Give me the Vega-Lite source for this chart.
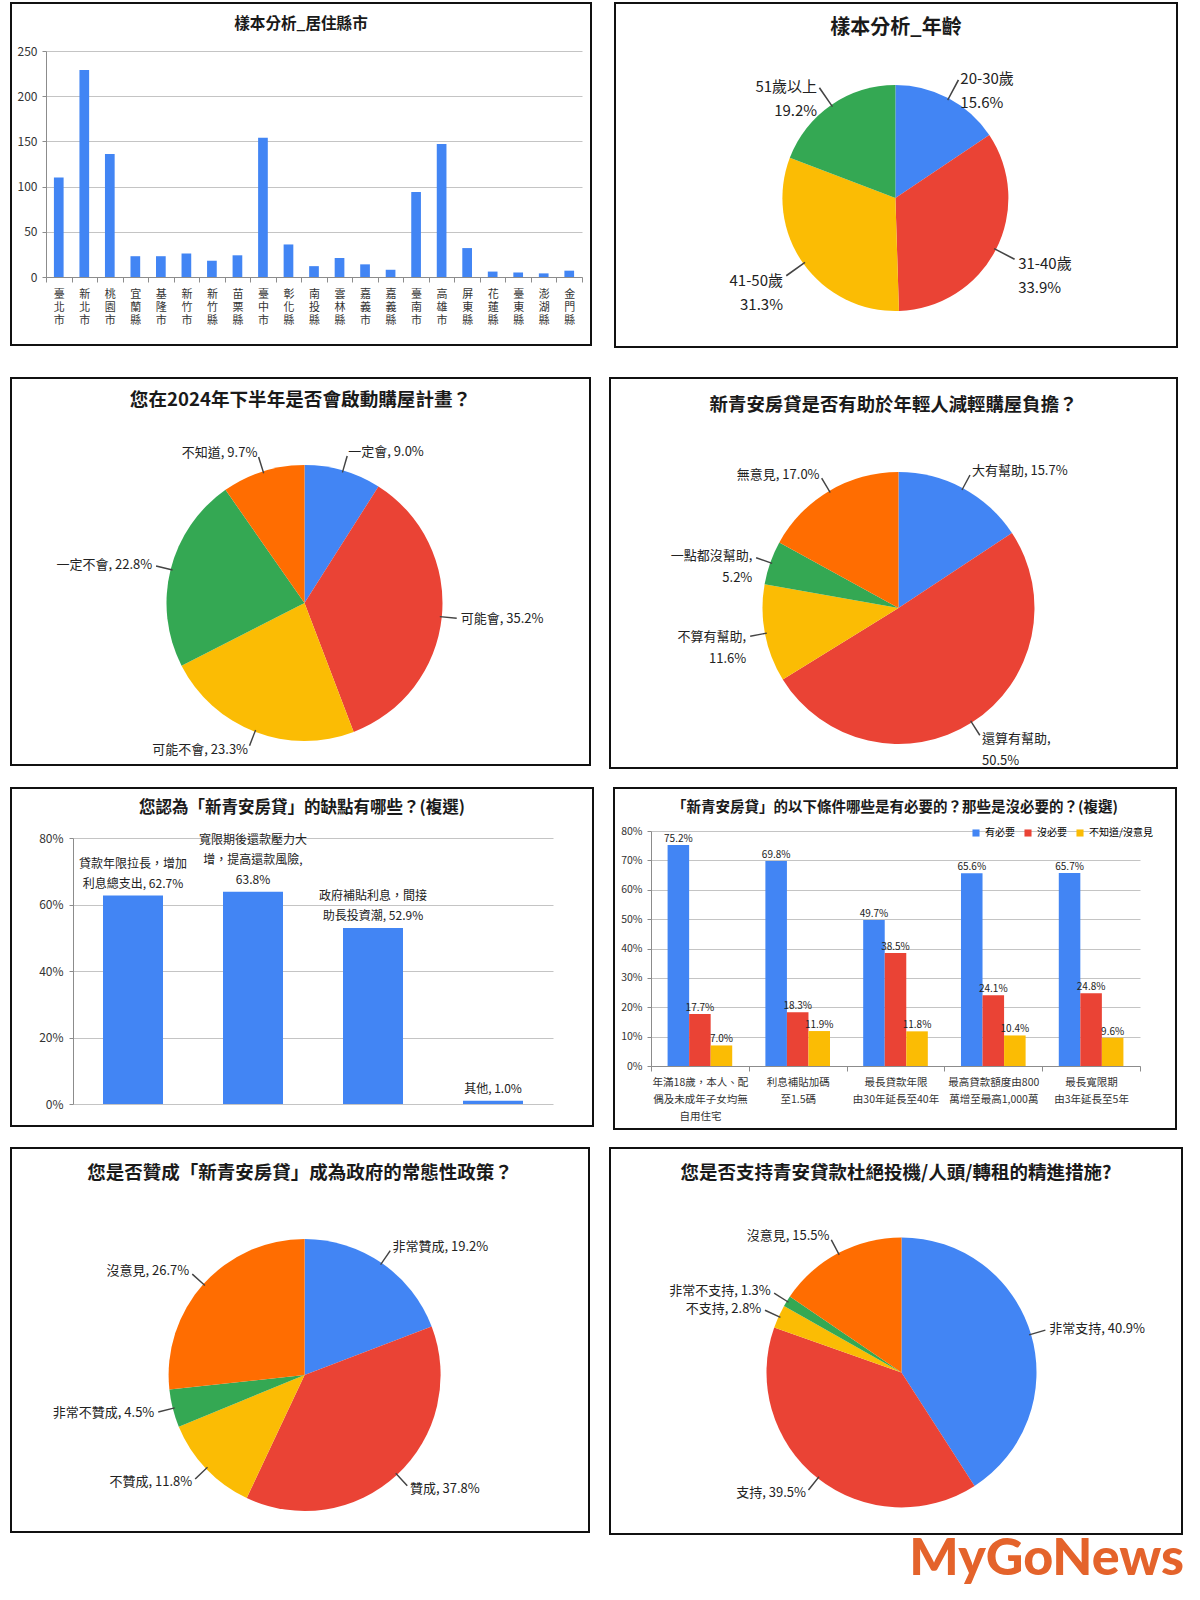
{
"$schema": "https://vega.github.io/schema/vega-lite/v6.json",
"background": "white",
"padding": {"left": 9, "top": 1, "right": 4, "bottom": 4},
"title": {"text": "MyGoNews", "orient": "bottom", "anchor": "end", "fontSize": 52, "font": "Lato", "fontWeight": 900, "color": "#e4632b", "offset": -2},
"resolve": {"scale": {"color": "independent"}},
"spacing": 16,
"vconcat": [
{"spacing": 17, "resolve": {"scale": {"color": "independent"}}, "vconcat": [
{"spacing": 27, "resolve": {"scale": {"color": "independent"}}, "vconcat": [
{"spacing": 21, "resolve": {"scale": {"color": "independent"}}, "hconcat": [
{
 "width": 580, "height": 342,
 "title": {"text": "樣本分析_居住縣市", "fontSize": 15.6, "offset": -30},
 "data": {"values": [
  {"city": "臺北市", "n": 110}, {"city": "新北市", "n": 229}, {"city": "桃園市", "n": 136},
  {"city": "宜蘭縣", "n": 23}, {"city": "基隆市", "n": 23}, {"city": "新竹市", "n": 26},
  {"city": "新竹縣", "n": 18}, {"city": "苗栗縣", "n": 24}, {"city": "臺中市", "n": 154},
  {"city": "彰化縣", "n": 36}, {"city": "南投縣", "n": 12}, {"city": "雲林縣", "n": 21},
  {"city": "嘉義市", "n": 14}, {"city": "嘉義縣", "n": 8}, {"city": "臺南市", "n": 94},
  {"city": "高雄市", "n": 147}, {"city": "屏東縣", "n": 32}, {"city": "花蓮縣", "n": 6},
  {"city": "臺東縣", "n": 5}, {"city": "澎湖縣", "n": 4}, {"city": "金門縣", "n": 7}
 ]},
 "mark": {"type": "bar", "color": "#4285f4", "width": {"band": 0.38}},
 "encoding": {
  "x": {"field": "city", "type": "nominal", "sort": null,
        "scale": {"range": [35, 571], "paddingInner": 0, "paddingOuter": 0},
        "axis": {"title": null, "offset": -68, "labelExpr": "split(datum.label, '')", "labelAngle": 0, "labelFontSize": 11, "labelLineHeight": 13.4, "labelPadding": 6, "tickBand": "extent", "tickSize": 5, "labelOverlap": false, "labelBaseline": "top"}},
  "y": {"field": "n", "type": "quantitative",
        "scale": {"domain": [0, 250], "range": [274, 48], "nice": false},
        "axis": {"title": null, "offset": -35, "values": [0, 50, 100, 150, 200, 250], "grid": true, "tickSize": 4, "labelPadding": 5, "labelFontSize": 12}}
 }
},
{
 "width": 562, "height": 344,
 "title": {"text": "樣本分析_年齡", "fontSize": 20, "offset": -36},
 "data": {"values": [{"k": "20-30歲", "v": 15.6}, {"k": "31-40歲", "v": 33.9}, {"k": "41-50歲", "v": 31.3}, {"k": "51歲以上", "v": 19.2}]},
 "transform": [
  {"window": [{"op": "row_number", "as": "idx"}, {"op": "sum", "field": "v", "as": "cum"}], "frame": [null, 0]},
  {"calculate": "datum.cum - datum.v / 2", "as": "mid"},
  {"calculate": "datum.mid - 0.1", "as": "m1"},
  {"calculate": "datum.mid + 0.1", "as": "m2"},
  {"calculate": "datum.k + '\\n' + format(datum.v, '.1f') + '%'", "as": "label"}
 ],
 "layer": [
  {"data": {"values": [{}]}, "mark": {"type": "rect", "filled": false, "color": "#111", "strokeWidth": 2},
   "encoding": {"x": {"value": 0}, "x2": {"value": "width"}, "y": {"value": 0}, "y2": {"value": "height"}}},
  {"mark": {"type": "arc", "outerRadius": 113, "xOffset": -0.6, "yOffset": 23},
   "encoding": {
    "theta": {"field": "v", "type": "quantitative", "stack": true, "scale": {"domain": [0, 100]}},
    "color": {"field": "idx", "type": "ordinal", "scale": {"domain": [1, 2, 3, 4, 5], "range": ["#4285f4", "#ea4335", "#fbbc04", "#34a853", "#ff6d01"]}, "legend": null},
    "order": {"field": "idx", "type": "quantitative"}}},
  {"mark": {"type": "arc", "innerRadius": 111, "outerRadius": 134, "xOffset": -0.6, "yOffset": 23, "color": "#444"},
   "encoding": {"theta": {"field": "m1", "type": "quantitative", "stack": null}, "theta2": {"field": "m2"}}},
  {"transform": [{"filter": "datum.mid < 50"}],
   "mark": {"type": "text", "radius": 138, "align": "left", "baseline": "middle", "dy": 3, "xOffset": -0.6, "yOffset": 23, "fontSize": 15, "lineBreak": "\n", "lineHeight": 24},
   "encoding": {"theta": {"field": "mid", "type": "quantitative", "stack": null}, "text": {"field": "label"}}},
  {"transform": [{"filter": "datum.mid >= 50"}],
   "mark": {"type": "text", "radius": 138, "align": "right", "baseline": "middle", "dy": 3, "xOffset": -0.6, "yOffset": 23, "fontSize": 15, "lineBreak": "\n", "lineHeight": 24},
   "encoding": {"theta": {"field": "mid", "type": "quantitative", "stack": null}, "text": {"field": "label"}}}
 ]
}
]},
{"spacing": 16, "resolve": {"scale": {"color": "independent"}}, "hconcat": [
{
 "width": 579, "height": 387,
 "title": {"text": "您在2024年下半年是否會啟動購屋計畫？", "fontSize": 18.6, "offset": -33},
 "data": {"values": [
  {"k": "一定會", "v": 9.0, "label": "一定會, 9.0%"},
  {"k": "可能會", "v": 35.2, "label": "可能會, 35.2%"},
  {"k": "可能不會", "v": 23.3, "label": "可能不會, 23.3%"},
  {"k": "一定不會", "v": 22.8, "label": "一定不會, 22.8%"},
  {"k": "不知道", "v": 9.7, "label": "不知道, 9.7%"}
 ]},
 "transform": [
  {"window": [{"op": "row_number", "as": "idx"}, {"op": "sum", "field": "v", "as": "cum"}], "frame": [null, 0]},
  {"calculate": "datum.cum - datum.v / 2", "as": "mid"},
  {"calculate": "datum.mid - 0.08", "as": "m1"},
  {"calculate": "datum.mid + 0.08", "as": "m2"}
 ],
 "layer": [
  {"data": {"values": [{}]}, "mark": {"type": "rect", "filled": false, "color": "#111", "strokeWidth": 2},
   "encoding": {"x": {"value": 0}, "x2": {"value": "width"}, "y": {"value": 0}, "y2": {"value": "height"}}},
  {"mark": {"type": "arc", "outerRadius": 138, "xOffset": 4, "yOffset": 31.5},
   "encoding": {
    "theta": {"field": "v", "type": "quantitative", "stack": true, "scale": {"domain": [0, 100]}},
    "color": {"field": "idx", "type": "ordinal", "scale": {"domain": [1, 2, 3, 4, 5], "range": ["#4285f4", "#ea4335", "#fbbc04", "#34a853", "#ff6d01"]}, "legend": null},
    "order": {"field": "idx", "type": "quantitative"}}},
  {"mark": {"type": "arc", "innerRadius": 136, "outerRadius": 153, "xOffset": 4, "yOffset": 31.5, "color": "#444"},
   "encoding": {"theta": {"field": "m1", "type": "quantitative", "stack": null}, "theta2": {"field": "m2"}}},
  {"transform": [{"filter": "datum.mid < 50"}],
   "mark": {"type": "text", "radius": 157, "align": "left", "baseline": "middle", "xOffset": 4, "yOffset": 31.5, "fontSize": 13},
   "encoding": {"theta": {"field": "mid", "type": "quantitative", "stack": null}, "text": {"field": "label"}}},
  {"transform": [{"filter": "datum.mid >= 50"}],
   "mark": {"type": "text", "radius": 157, "align": "right", "baseline": "middle", "xOffset": 4, "yOffset": 31.5, "fontSize": 13},
   "encoding": {"theta": {"field": "mid", "type": "quantitative", "stack": null}, "text": {"field": "label"}}}
 ]
},
{
 "width": 567, "height": 390,
 "title": {"text": "新青安房貸是否有助於年輕人減輕購屋負擔？", "fontSize": 18.4, "offset": -37},
 "data": {"values": [
  {"k": "大有幫助", "v": 15.7, "label": "大有幫助, 15.7%"},
  {"k": "還算有幫助", "v": 50.5, "label": "還算有幫助,\n50.5%"},
  {"k": "不算有幫助", "v": 11.6, "label": "不算有幫助,\n11.6%"},
  {"k": "一點都沒幫助", "v": 5.2, "label": "一點都沒幫助,\n5.2%"},
  {"k": "無意見", "v": 17.0, "label": "無意見, 17.0%"}
 ]},
 "transform": [
  {"window": [{"op": "row_number", "as": "idx"}, {"op": "sum", "field": "v", "as": "cum"}], "frame": [null, 0]},
  {"calculate": "datum.cum - datum.v / 2", "as": "mid"},
  {"calculate": "datum.mid - 0.08", "as": "m1"},
  {"calculate": "datum.mid + 0.08", "as": "m2"}
 ],
 "layer": [
  {"data": {"values": [{}]}, "mark": {"type": "rect", "filled": false, "color": "#111", "strokeWidth": 2},
   "encoding": {"x": {"value": 0}, "x2": {"value": "width"}, "y": {"value": 0}, "y2": {"value": "height"}}},
  {"mark": {"type": "arc", "outerRadius": 136, "xOffset": 5, "yOffset": 35},
   "encoding": {
    "theta": {"field": "v", "type": "quantitative", "stack": true, "scale": {"domain": [0, 100]}},
    "color": {"field": "idx", "type": "ordinal", "scale": {"domain": [1, 2, 3, 4, 5], "range": ["#4285f4", "#ea4335", "#fbbc04", "#34a853", "#ff6d01"]}, "legend": null},
    "order": {"field": "idx", "type": "quantitative"}}},
  {"mark": {"type": "arc", "innerRadius": 134, "outerRadius": 151, "xOffset": 5, "yOffset": 35, "color": "#444"},
   "encoding": {"theta": {"field": "m1", "type": "quantitative", "stack": null}, "theta2": {"field": "m2"}}},
  {"transform": [{"filter": "datum.mid < 50"}],
   "mark": {"type": "text", "radius": 155, "align": "left", "baseline": "middle", "xOffset": 5, "yOffset": 35, "fontSize": 13, "lineBreak": "\n", "lineHeight": 22},
   "encoding": {"theta": {"field": "mid", "type": "quantitative", "stack": null}, "text": {"field": "label"}}},
  {"transform": [{"filter": "datum.mid >= 50"}],
   "mark": {"type": "text", "radius": 155, "align": "right", "baseline": "middle", "xOffset": 5, "yOffset": 35, "fontSize": 13, "lineBreak": "\n", "lineHeight": 22},
   "encoding": {"theta": {"field": "mid", "type": "quantitative", "stack": null}, "text": {"field": "label"}}}
 ]
}
]}
]},
{"spacing": 19, "resolve": {"scale": {"color": "independent"}}, "hconcat": [
{
 "width": 582, "height": 338,
 "title": {"text": "您認為「新青安房貸」的缺點有哪些？(複選)", "fontSize": 16.5, "offset": -28},
 "data": {"values": [
  {"k": "貸款年限拉長，增加利息總支出", "v": 62.7, "label": "貸款年限拉長，增加\n利息總支出, 62.7%"},
  {"k": "寬限期後還款壓力大增，提高還款風險", "v": 63.8, "label": "寬限期後還款壓力大\n增，提高還款風險,\n63.8%"},
  {"k": "政府補貼利息，間接助長投資潮", "v": 52.9, "label": "政府補貼利息，間接\n助長投資潮, 52.9%"},
  {"k": "其他", "v": 1.0, "label": "其他, 1.0%"}
 ]},
 "transform": [
  {"calculate": "split(datum.label, '\\n')", "as": "lines"},
  {"calculate": "length(datum.lines)", "as": "nl"},
  {"calculate": "datum.lines[datum.nl - 1]", "as": "t0"},
  {"calculate": "datum.nl > 1 ? datum.lines[datum.nl - 2] : ''", "as": "t1"},
  {"calculate": "datum.nl > 2 ? datum.lines[datum.nl - 3] : ''", "as": "t2"}
 ],
 "encoding": {
  "x": {"field": "k", "type": "nominal", "sort": null, "scale": {"range": [62, 542], "paddingInner": 0.5, "paddingOuter": 0.25}, "axis": null},
  "y": {"field": "v", "type": "quantitative", "scale": {"domain": [0, 80], "range": [316, 50], "nice": false},
        "axis": {"title": null, "offset": -62, "values": [0, 20, 40, 60, 80], "labelExpr": "datum.value + '%'", "grid": true, "tickSize": 4, "labelPadding": 6, "labelFontSize": 12}}
 },
 "layer": [
  {"mark": {"type": "bar", "color": "#4285f4"}},
  {"mark": {"type": "text", "baseline": "middle", "dy": -12, "fontSize": 12},
   "encoding": {"text": {"field": "t0"}}},
  {"mark": {"type": "text", "baseline": "middle", "dy": -32, "fontSize": 12},
   "encoding": {"text": {"field": "t1"}}},
  {"mark": {"type": "text", "baseline": "middle", "dy": -52, "fontSize": 12},
   "encoding": {"text": {"field": "t2"}}}
 ]
},
{
 "width": 562, "height": 341,
 "title": {"text": "「新青安房貸」的以下條件哪些是有必要的？那些是沒必要的？(複選)", "fontSize": 14.5, "offset": -27},
 "data": {"values": [
  {"c": "年滿18歲，本人、配\n偶及未成年子女均無\n自用住宅", "s": "有必要", "v": 75.2},
  {"c": "年滿18歲，本人、配\n偶及未成年子女均無\n自用住宅", "s": "沒必要", "v": 17.7},
  {"c": "年滿18歲，本人、配\n偶及未成年子女均無\n自用住宅", "s": "不知道/沒意見", "v": 7.0},
  {"c": "利息補貼加碼\n至1.5碼", "s": "有必要", "v": 69.8},
  {"c": "利息補貼加碼\n至1.5碼", "s": "沒必要", "v": 18.3},
  {"c": "利息補貼加碼\n至1.5碼", "s": "不知道/沒意見", "v": 11.9},
  {"c": "最長貸款年限\n由30年延長至40年", "s": "有必要", "v": 49.7},
  {"c": "最長貸款年限\n由30年延長至40年", "s": "沒必要", "v": 38.5},
  {"c": "最長貸款年限\n由30年延長至40年", "s": "不知道/沒意見", "v": 11.8},
  {"c": "最高貸款額度由800\n萬增至最高1,000萬", "s": "有必要", "v": 65.6},
  {"c": "最高貸款額度由800\n萬增至最高1,000萬", "s": "沒必要", "v": 24.1},
  {"c": "最高貸款額度由800\n萬增至最高1,000萬", "s": "不知道/沒意見", "v": 10.4},
  {"c": "最長寬限期\n由3年延長至5年", "s": "有必要", "v": 65.7},
  {"c": "最長寬限期\n由3年延長至5年", "s": "沒必要", "v": 24.8},
  {"c": "最長寬限期\n由3年延長至5年", "s": "不知道/沒意見", "v": 9.6}
 ]},
 "transform": [{"calculate": "format(datum.v, '.1f') + '%'", "as": "lab"}],
 "encoding": {
  "x": {"field": "c", "type": "nominal", "sort": null, "scale": {"range": [37, 526], "paddingInner": 0, "paddingOuter": 0},
        "axis": {"title": null, "offset": -63, "labelExpr": "split(datum.label, '\\n')", "labelAngle": 0, "labelFontSize": 10.5, "labelLineHeight": 17, "labelPadding": 6, "tickBand": "extent", "tickSize": 5, "labelOverlap": false, "labelBaseline": "top"}},
  "xOffset": {"field": "s", "type": "nominal", "sort": ["有必要", "沒必要", "不知道/沒意見"], "scale": {"paddingInner": 0, "paddingOuter": 0.77}},
  "y": {"field": "v", "type": "quantitative", "scale": {"domain": [0, 80], "range": [278, 43], "nice": false},
        "axis": {"title": null, "offset": -37, "values": [0, 10, 20, 30, 40, 50, 60, 70, 80], "labelExpr": "datum.value + '%'", "grid": true, "tickSize": 4, "labelPadding": 5, "labelFontSize": 10.5}}
 },
 "layer": [
  {"mark": {"type": "bar"},
   "encoding": {"color": {"field": "s", "type": "nominal", "sort": ["有必要", "沒必要", "不知道/沒意見"],
     "scale": {"domain": ["有必要", "沒必要", "不知道/沒意見"], "range": ["#4285f4", "#ea4335", "#fbbc04"]},
     "legend": {"orient": "none", "legendX": 357, "legendY": 40, "direction": "horizontal", "title": null, "symbolType": "square", "symbolSize": 50, "labelFontSize": 10, "columnPadding": 8, "symbolStrokeWidth": 0}}}},
  {"mark": {"type": "text", "baseline": "bottom", "dy": -1, "fontSize": 10},
   "encoding": {"text": {"field": "lab"}}}
 ]
}
]}
]},
{"spacing": 17, "resolve": {"scale": {"color": "independent"}}, "hconcat": [
{
 "width": 578, "height": 384,
 "title": {"text": "您是否贊成「新青安房貸」成為政府的常態性政策？", "fontSize": 18.5, "offset": -35},
 "data": {"values": [
  {"k": "非常贊成", "v": 19.2, "label": "非常贊成, 19.2%"},
  {"k": "贊成", "v": 37.8, "label": "贊成, 37.8%"},
  {"k": "不贊成", "v": 11.8, "label": "不贊成, 11.8%"},
  {"k": "非常不贊成", "v": 4.5, "label": "非常不贊成, 4.5%"},
  {"k": "沒意見", "v": 26.7, "label": "沒意見, 26.7%"}
 ]},
 "transform": [
  {"window": [{"op": "row_number", "as": "idx"}, {"op": "sum", "field": "v", "as": "cum"}], "frame": [null, 0]},
  {"calculate": "datum.cum - datum.v / 2", "as": "mid"},
  {"calculate": "datum.mid - 0.08", "as": "m1"},
  {"calculate": "datum.mid + 0.08", "as": "m2"}
 ],
 "layer": [
  {"data": {"values": [{}]}, "mark": {"type": "rect", "filled": false, "color": "#111", "strokeWidth": 2},
   "encoding": {"x": {"value": 0}, "x2": {"value": "width"}, "y": {"value": 0}, "y2": {"value": "height"}}},
  {"mark": {"type": "arc", "outerRadius": 136, "xOffset": 4.6, "yOffset": 35},
   "encoding": {
    "theta": {"field": "v", "type": "quantitative", "stack": true, "scale": {"domain": [0, 100]}},
    "color": {"field": "idx", "type": "ordinal", "scale": {"domain": [1, 2, 3, 4, 5], "range": ["#4285f4", "#ea4335", "#fbbc04", "#34a853", "#ff6d01"]}, "legend": null},
    "order": {"field": "idx", "type": "quantitative"}}},
  {"mark": {"type": "arc", "innerRadius": 134, "outerRadius": 151, "xOffset": 4.6, "yOffset": 35, "color": "#444"},
   "encoding": {"theta": {"field": "m1", "type": "quantitative", "stack": null}, "theta2": {"field": "m2"}}},
  {"transform": [{"filter": "datum.mid < 50"}],
   "mark": {"type": "text", "radius": 155, "align": "left", "baseline": "middle", "xOffset": 4.6, "yOffset": 35, "fontSize": 13},
   "encoding": {"theta": {"field": "mid", "type": "quantitative", "stack": null}, "text": {"field": "label"}}},
  {"transform": [{"filter": "datum.mid >= 50"}],
   "mark": {"type": "text", "radius": 155, "align": "right", "baseline": "middle", "xOffset": 4.6, "yOffset": 35, "fontSize": 13},
   "encoding": {"theta": {"field": "mid", "type": "quantitative", "stack": null}, "text": {"field": "label"}}}
 ]
},
{
 "width": 572, "height": 386,
 "title": {"text": "您是否支持青安貸款杜絕投機/人頭/轉租的精進措施?", "fontSize": 18.5, "offset": -35},
 "data": {"values": [
  {"k": "非常支持", "v": 40.9, "label": "非常支持, 40.9%"},
  {"k": "支持", "v": 39.5, "label": "支持, 39.5%"},
  {"k": "不支持", "v": 2.8, "label": "不支持, 2.8%"},
  {"k": "非常不支持", "v": 1.3, "label": "非常不支持, 1.3%"},
  {"k": "沒意見", "v": 15.5, "label": "沒意見, 15.5%"}
 ]},
 "transform": [
  {"window": [{"op": "row_number", "as": "idx"}, {"op": "sum", "field": "v", "as": "cum"}], "frame": [null, 0]},
  {"calculate": "datum.cum - datum.v / 2", "as": "mid"},
  {"calculate": "datum.mid - 0.08", "as": "m1"},
  {"calculate": "datum.mid + 0.08", "as": "m2"}
 ],
 "layer": [
  {"data": {"values": [{}]}, "mark": {"type": "rect", "filled": false, "color": "#111", "strokeWidth": 2},
   "encoding": {"x": {"value": 0}, "x2": {"value": "width"}, "y": {"value": 0}, "y2": {"value": "height"}}},
  {"mark": {"type": "arc", "outerRadius": 135, "xOffset": 5.5, "yOffset": 31.4},
   "encoding": {
    "theta": {"field": "v", "type": "quantitative", "stack": true, "scale": {"domain": [0, 100]}},
    "color": {"field": "idx", "type": "ordinal", "scale": {"domain": [1, 2, 3, 4, 5], "range": ["#4285f4", "#ea4335", "#fbbc04", "#34a853", "#ff6d01"]}, "legend": null},
    "order": {"field": "idx", "type": "quantitative"}}},
  {"mark": {"type": "arc", "innerRadius": 133, "outerRadius": 150, "xOffset": 5.5, "yOffset": 31.4, "color": "#444"},
   "encoding": {"theta": {"field": "m1", "type": "quantitative", "stack": null}, "theta2": {"field": "m2"}}},
  {"transform": [{"filter": "datum.mid < 50"}],
   "mark": {"type": "text", "radius": 154, "align": "left", "baseline": "middle", "xOffset": 5.5, "yOffset": 31.4, "fontSize": 13},
   "encoding": {"theta": {"field": "mid", "type": "quantitative", "stack": null}, "text": {"field": "label"}}},
  {"transform": [{"filter": "datum.mid >= 50"}],
   "mark": {"type": "text", "radius": 154, "align": "right", "baseline": "middle", "xOffset": 5.5, "yOffset": 31.4, "fontSize": 13},
   "encoding": {"theta": {"field": "mid", "type": "quantitative", "stack": null}, "text": {"field": "label"}}}
 ]
}
]}
],
"config": {
 "font": "Noto Sans CJK TC",
 "view": {"stroke": "#111", "strokeWidth": 2},
 "title": {"color": "#1a1a1a", "fontWeight": "bold", "anchor": "middle"},
 "axis": {"labelColor": "#333", "domainColor": "#8c8c8c", "tickColor": "#8c8c8c", "gridColor": "#c4c4c4"},
 "text": {"color": "#222"}
}
}
